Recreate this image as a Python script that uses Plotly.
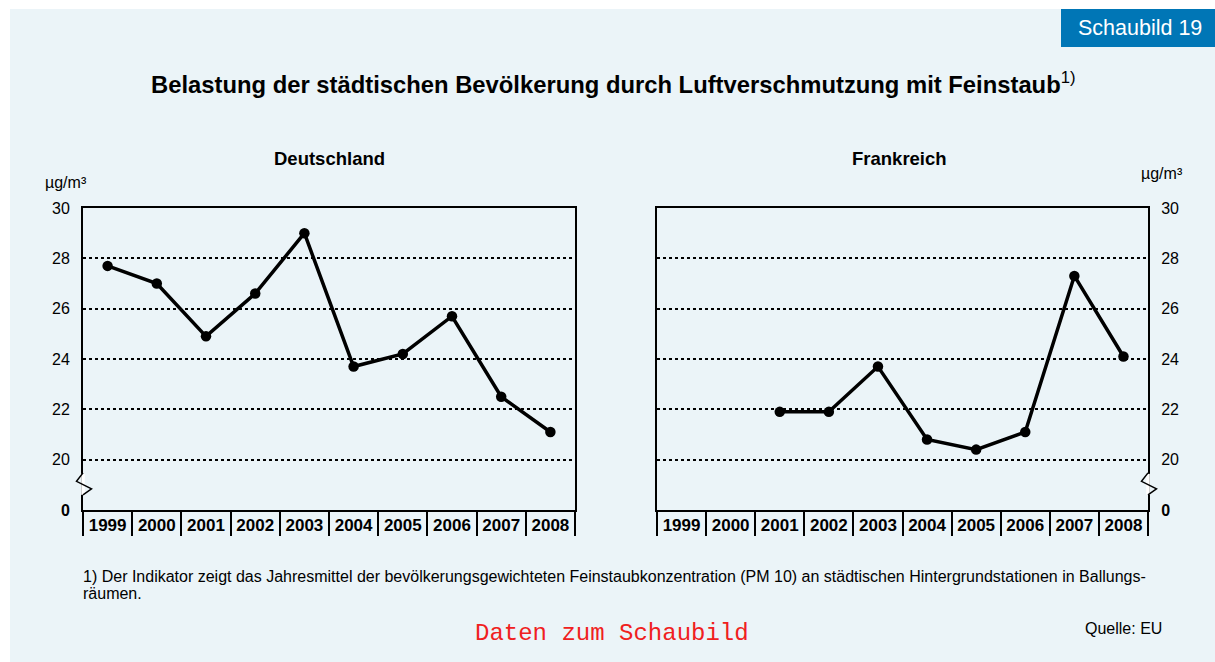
import plotly.graph_objects as go

W, H = 1215, 662

years = ["1999", "2000", "2001", "2002", "2003", "2004", "2005", "2006", "2007", "2008"]
deutschland = [27.7, 27.0, 24.9, 26.6, 29.0, 23.7, 24.2, 25.7, 22.5, 21.1]
frankreich = [None, None, 21.9, 21.9, 23.7, 20.8, 20.4, 21.1, 27.3, 24.1]

y_tickvals = [18, 20, 22, 24, 26, 28, 30]
y_ticktext = ["<b>0</b>", "20", "22", "24", "26", "28", "30"]

FONT = "Arial, Liberation Sans, sans-serif"
PANEL = "#EBF4F8"
BLUE = "#0076B6"


def px(x):
    return x / W


def py(y):
    return 1 - y / H


fig = go.Figure()
fig.add_trace(go.Scatter(x=years, y=deutschland, mode="lines+markers",
                         line=dict(color="black", width=3.5),
                         marker=dict(color="black", size=10.5),
                         xaxis="x", yaxis="y", showlegend=False))
fig.add_trace(go.Scatter(x=years, y=frankreich, mode="lines+markers",
                         line=dict(color="black", width=3.5),
                         marker=dict(color="black", size=10.5),
                         xaxis="x2", yaxis="y2", showlegend=False))

xcommon = dict(type="category", categoryorder="array", categoryarray=years,
               range=[-0.5, 9.5], showline=True, linecolor="black", linewidth=2,
               mirror=True, showgrid=False, tickson="boundaries", ticks="outside",
               ticklen=24, tickwidth=1.5, tickcolor="black",
               tickfont=dict(family=FONT, size=17, color="black", weight="bold"),
               ticklabelstandoff=-1, fixedrange=True, automargin=False)
ycommon = dict(range=[18, 30], tickvals=y_tickvals, ticktext=y_ticktext,
               showline=True, linecolor="black", linewidth=2, mirror=True,
               showgrid=True, gridcolor="black", gridwidth=1.5, griddash="dot",
               zeroline=False, ticks="",
               tickfont=dict(family=FONT, size=16, color="black"),
               ticklabelstandoff=8, fixedrange=True, automargin=False)

yd = [py(510), py(208)]
fig.update_layout(
    width=W, height=H, autosize=False, showlegend=False,
    margin=dict(l=0, r=0, t=0, b=0, pad=0, autoexpand=False),
    paper_bgcolor="white", plot_bgcolor="white",
    font=dict(family=FONT, color="black"),
    xaxis=dict(domain=[px(83), px(575)], anchor="y", **xcommon),
    xaxis2=dict(domain=[px(657), px(1148)], anchor="y2", **xcommon),
    yaxis=dict(domain=yd, anchor="x", side="left", **ycommon),
    yaxis2=dict(domain=yd, anchor="x2", side="right", **ycommon),
)

shapes = [
    dict(type="rect", xref="paper", yref="paper", x0=px(10), x1=1, y0=0, y1=py(9),
         fillcolor=PANEL, line=dict(width=0), layer="below"),
    dict(type="rect", xref="paper", yref="paper", x0=px(1061), x1=1, y0=py(47), y1=py(9),
         fillcolor=BLUE, line=dict(width=0), layer="below"),
]
brk_frac = (19 - 18) / 12
for xr, yr, xa in [("x domain", "y domain", 0), ("x2 domain", "y2 domain", 1)]:
    shapes.append(dict(type="path", xref=xr, yref=yr, xsizemode="pixel", ysizemode="pixel",
                       xanchor=xa, yanchor=brk_frac,
                       path="M-1.8,11 L1.8,11 L1.8,-10 L-1.8,-10 Z",
                       fillcolor="white", line=dict(width=0), layer="above"))
    shapes.append(dict(type="path", xref=xr, yref=yr, xsizemode="pixel", ysizemode="pixel",
                       xanchor=xa, yanchor=brk_frac,
                       path="M0,12 L-6.5,3.5 L8.5,-4 L0,-10",
                       line=dict(color="black", width=1.5), layer="above"))
fig.update_layout(shapes=shapes)

ann = [
    dict(x=px(1140), y=py(28), text="Schaubild 19", font=dict(size=21.5, color="white"),
         xanchor="center", yanchor="middle"),
    dict(x=px(613), y=py(83),
         text="<b>Belastung der städtischen Bevölkerung durch Luftverschmutzung mit Feinstaub</b><sup>1)</sup>",
         font=dict(size=23.8, color="black"), xanchor="center", yanchor="middle"),
    dict(x=px(329), y=py(159), text="<b>Deutschland</b>", font=dict(size=18.5),
         xanchor="center", yanchor="middle"),
    dict(x=px(899), y=py(159), text="<b>Frankreich</b>", font=dict(size=18.5),
         xanchor="center", yanchor="middle"),
    dict(x=px(66), y=py(183), text="µg/m³", font=dict(size=16),
         xanchor="center", yanchor="middle"),
    dict(x=px(1162), y=py(174), text="µg/m³", font=dict(size=16),
         xanchor="center", yanchor="middle"),
    dict(x=px(81), y=py(576),
         text="1) Der Indikator zeigt das Jahresmittel der bevölkerungsgewichteten Feinstaubkonzentration (PM 10) an städtischen Hintergrundstationen in Ballungs-",
         font=dict(size=16), xanchor="left", yanchor="middle"),
    dict(x=px(81), y=py(593), text="räumen.", font=dict(size=16),
         xanchor="left", yanchor="middle"),
    dict(x=px(612), y=py(633), text="Daten zum Schaubild",
         font=dict(family="Liberation Mono, Courier New, monospace", size=24, color="#F02020"),
         xanchor="center", yanchor="middle"),
    dict(x=px(1083), y=py(628), text="Quelle: EU", font=dict(size=16),
         xanchor="left", yanchor="middle"),
]
for a in ann:
    a.update(xref="paper", yref="paper", showarrow=False)
    a["font"].setdefault("family", FONT)
fig.update_layout(annotations=ann)

post = (
    "document.documentElement.style.margin='0';"
    "document.body.style.margin='0';document.body.style.padding='0';"
    "document.body.style.overflow='hidden';"
    "var gd=document.getElementById('{plot_id}');"
    "gd.style.width='1215px';gd.style.height='662px';"
    "return Plotly.relayout(gd,{width:1215,height:662});"
)
fig.write_html("out.html", post_script=post, config={"displayModeBar": False})
